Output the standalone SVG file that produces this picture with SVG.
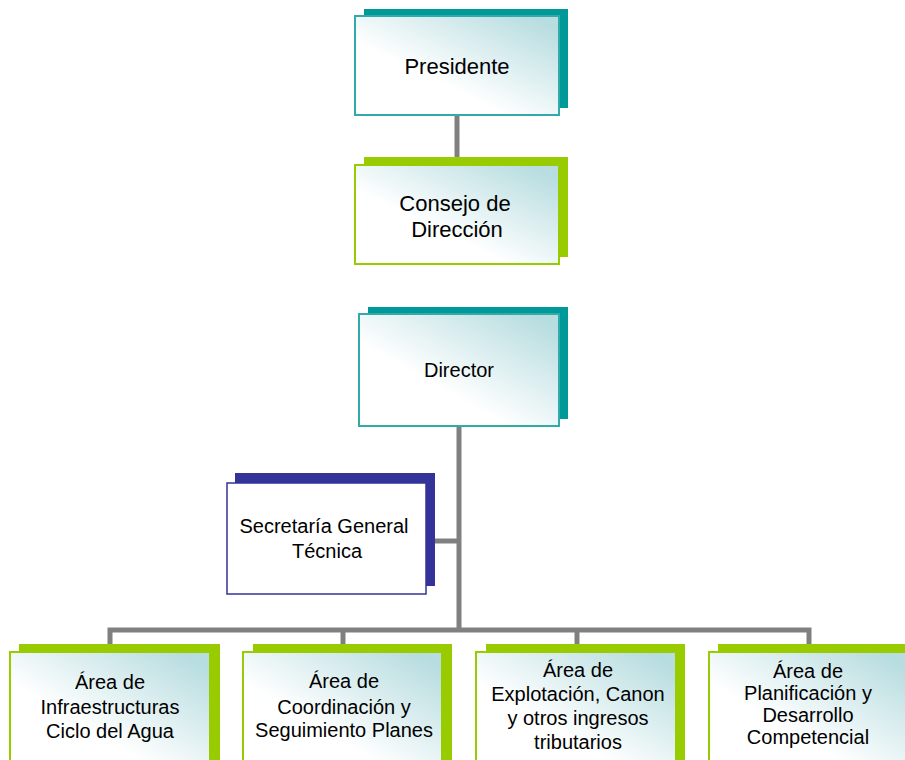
<svg xmlns="http://www.w3.org/2000/svg" width="905" height="760" viewBox="0 0 905 760">
<defs>
<linearGradient id="g" x1="0.1" y1="0.95" x2="0.95" y2="0.1">
<stop offset="0" stop-color="#ffffff"/>
<stop offset="0.35" stop-color="#ffffff"/>
<stop offset="1" stop-color="#b8dde0"/>
</linearGradient>
<style>
.t{font-family:"Liberation Sans",Arial,sans-serif;fill:#000;text-anchor:middle}
.sh-teal{fill:#009999}
.sh-green{fill:#99cc00}
.sh-navy{fill:#333399}
.fr-teal{fill:url(#g);stroke:#33aaaa;stroke-width:2}
.fr-green{fill:url(#g);stroke:#99cc00;stroke-width:2}
.fr-navy{fill:#ffffff;stroke:#333399;stroke-width:1.5}
.c{fill:none;stroke:#808080;stroke-width:5}
</style>
</defs>
<rect width="905" height="760" fill="#ffffff"/>
<g id="connectors">
<line class="c" x1="457" y1="115" x2="457" y2="165"/>
<line class="c" x1="459" y1="426" x2="459" y2="632"/>
<line class="c" x1="435" y1="541" x2="459" y2="541"/>
<polyline class="c" points="110,652 110,630 809,630 809,652"/>
<line class="c" x1="343" y1="630" x2="343" y2="652"/>
<line class="c" x1="577" y1="630" x2="577" y2="652"/>
</g>
<g id="presidente">
<rect class="sh-teal" x="364" y="9" width="204" height="99"/>
<rect class="fr-teal" x="355" y="16" width="204" height="99"/>
<text class="t" x="457" y="74" font-size="22">Presidente</text>
</g>
<g id="consejo">
<rect class="sh-green" x="364" y="157" width="204" height="100"/>
<rect class="fr-green" x="355" y="165" width="204" height="99"/>
<text class="t" font-size="22"><tspan x="455" y="211">Consejo de</tspan><tspan x="457" y="237">Dirección</tspan></text>
</g>
<g id="director">
<rect class="sh-teal" x="368" y="307" width="200" height="112"/>
<rect class="fr-teal" x="359" y="314" width="200" height="112"/>
<text class="t" x="459" y="377" font-size="20">Director</text>
</g>
<g id="secretaria">
<rect class="sh-navy" x="235" y="473" width="200" height="113"/>
<rect class="fr-navy" x="227" y="483" width="199" height="111"/>
<text class="t" font-size="20"><tspan x="324" y="533">Secretaría General</tspan><tspan x="327" y="558">Técnica</tspan></text>
</g>
<g id="area-infraestructuras">
<rect class="sh-green" x="19" y="644" width="201" height="120"/>
<rect class="fr-green" x="10" y="652" width="200" height="120"/>
<text class="t" font-size="20"><tspan x="110" y="689">Área de</tspan><tspan x="110" y="714">Infraestructuras</tspan><tspan x="110" y="738">Ciclo del Agua</tspan></text>
</g>
<g id="area-coordinacion">
<rect class="sh-green" x="253" y="644" width="199" height="120"/>
<rect class="fr-green" x="243" y="652" width="199" height="120"/>
<text class="t" font-size="20"><tspan x="344" y="688">Área de</tspan><tspan x="344" y="714">Coordinación y</tspan><tspan x="344" y="737">Seguimiento Planes</tspan></text>
</g>
<g id="area-explotacion">
<rect class="sh-green" x="486" y="644" width="199" height="120"/>
<rect class="fr-green" x="476" y="652" width="200" height="120"/>
<text class="t" font-size="20"><tspan x="578" y="677">Área de</tspan><tspan x="578" y="701">Explotación, Canon</tspan><tspan x="578" y="725">y otros ingresos</tspan><tspan x="578" y="749">tributarios</tspan></text>
</g>
<g id="area-planificacion">
<rect class="sh-green" x="718" y="644" width="200" height="120"/>
<rect class="fr-green" x="709" y="652" width="200" height="120"/>
<text class="t" font-size="20"><tspan x="808" y="678">Área de</tspan><tspan x="808" y="700">Planificación y</tspan><tspan x="808" y="722">Desarrollo</tspan><tspan x="808" y="744">Competencial</tspan></text>
</g>
</svg>
